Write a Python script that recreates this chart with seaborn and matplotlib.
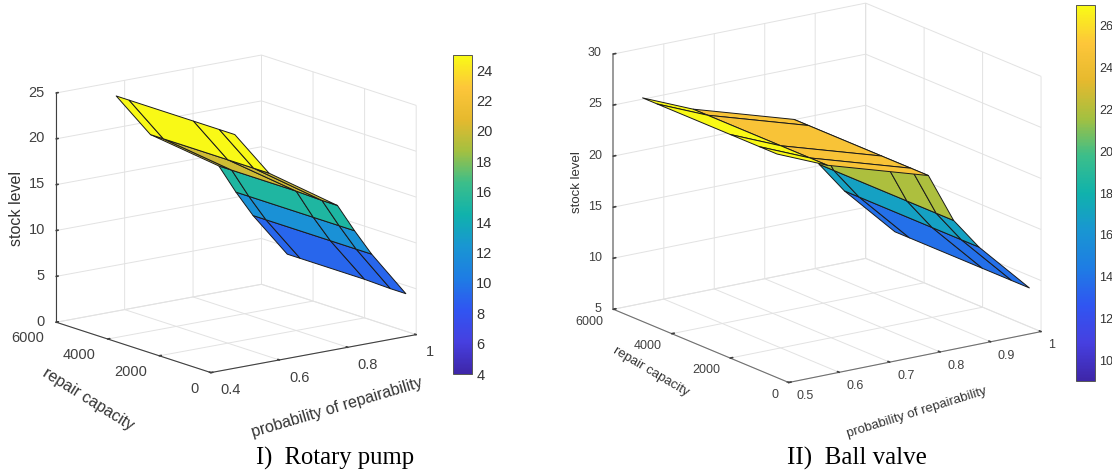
import numpy as np
import matplotlib
matplotlib.use('Agg')
import matplotlib.pyplot as plt
from matplotlib.cm import ScalarMappable
from matplotlib.colors import Normalize
import seaborn as sns

# values
prob = [0.5, 0.6, 0.8, 0.85, 0.9, 1.0]
capacity = [5000, 4500, 2000, 1000, 400]

stock_pump = [
    [24.9, 24.9, 24.9, 24.9, 24.9],
    [20.0, 20.0, 20.0, 20.0, 20.0],
    [15.2, 15.2, 15.2, 15.1, 15.1],
    [12.0, 12.0, 12.0, 12.0, 12.0],
    [9.1, 9.1, 9.1, 9.1, 9.1],
    [4.2, 4.2, 4.2, 4.1, 4.1],
]
stock_valve = [
    [26.9, 26.9, 26.9, 26.9, 26.9],
    [24.8, 24.8, 24.8, 24.8, 24.8],
    [21.8, 21.8, 21.8, 21.8, 21.8],
    [16.9, 16.9, 16.9, 16.9, 16.9],
    [13.8, 13.8, 13.8, 13.8, 13.8],
    [8.8, 8.8, 8.8, 8.8, 8.8],
]

pump_xticks = [0.4, 0.6, 0.8, 1.0]
pump_xlabels = ['0.4', '0.6', '0.8', '1']
pump_zticks = [0, 5, 10, 15, 20, 25]
pump_cticks = [4, 6, 8, 10, 12, 14, 16, 18, 20, 22, 24]

valve_xticks = [0.5, 0.6, 0.7, 0.8, 0.9, 1.0]
valve_xlabels = ['0.5', '0.6', '0.7', '0.8', '0.9', '1']
valve_zticks = [5, 10, 15, 20, 25, 30]
valve_cticks = [10, 12, 14, 16, 18, 20, 22, 24, 26]

cap_ticks = [0, 2000, 4000, 6000]

# parula anchors
parula = sns.blend_palette(['#3e26a8', '#4640e0', '#3055f2', '#1e7de4', '#1996d2', '#10b2ac',
                            '#3cbe8a', '#a4c040', '#e6b92e', '#fdc63a', '#f9fb15'],
                           as_cmap=True)

sns.set_theme(style='white')
plt.rcParams['font.family'] = ['Liberation Sans', 'DejaVu Sans']

W, H = 1112, 474
fig = plt.figure(figsize=(W / 100, H / 100), dpi=100)


def pixel_text(x, y, text, **kw):
    # positions measured in pixels from the top left of the picture
    fig.text(x / W, 1 - y / H, text, ha='center', va='center', rotation_mode='anchor', **kw)


def draw_panel(rect, stock, xlim, zlim, xticks, xlabels, zticks, clim, cticks, view, aspect, cax_rect,
               fs, tick_pad):
    left, bottom, size = rect
    ax = fig.add_axes([left / W, bottom / H, size / W, size / H], projection='3d', proj_type='ortho')
    ax.patch.set_alpha(0)
    ax.view_init(elev=view[0], azim=view[1])
    ax.set_box_aspect(aspect)

    P, C = np.meshgrid(prob, capacity, indexing='ij')
    Z = np.array(stock)
    norm = Normalize(*clim)
    ax.plot_surface(P, C, Z, facecolors=parula(norm(Z)), rstride=1, cstride=1, shade=False,
                    edgecolor='#1a1a1a', linewidth=0.7, antialiased=True)

    ax.set_xlim(*xlim, view_margin=0)
    ax.set_ylim(0, 6000, view_margin=0)
    ax.set_zlim(*zlim, view_margin=0)
    ax.set_xticks(xticks)
    ax.set_xticklabels(xlabels, ha='left', va='center')
    ax.set_yticks(cap_ticks)
    ax.set_yticklabels([str(c) for c in cap_ticks], ha='right', va='center')
    ax.set_zticks(zticks)
    ax.set_zticklabels([str(z) for z in zticks], ha='right', va='center')

    for axis in (ax.xaxis, ax.yaxis, ax.zaxis):
        axis.set_pane_color((1, 1, 1, 0))
        axis.pane.set_edgecolor('#dddddd')
        axis.pane.set_linewidth(0.7)
        axis.line.set_color('#404040')
        axis.line.set_linewidth(0.8)
        axis._axinfo['grid'].update(color='#e2e2e2', linewidth=0.7)
        axis._axinfo['tick'].update(inward_factor=0.0, outward_factor=0.12)
    ax.tick_params(labelsize=fs, colors='#404040')
    ax.tick_params(axis='x', pad=tick_pad[0])
    ax.tick_params(axis='y', pad=tick_pad[1])
    ax.tick_params(axis='z', pad=tick_pad[2])

    cax = fig.add_axes([cax_rect[0] / W, (H - cax_rect[3]) / H,
                        (cax_rect[1] - cax_rect[0]) / W, (cax_rect[3] - cax_rect[2]) / H])
    cb = fig.colorbar(ScalarMappable(norm=norm, cmap=parula), cax=cax, ticks=cticks)
    cb.ax.tick_params(direction='in', length=2.5, width=0.6, color='#404040',
                      labelsize=fs, labelcolor='#333333', pad=3)
    cb.outline.set_edgecolor('#555555')
    cb.outline.set_linewidth(0.7)
    return ax


draw_panel((20, 44, 421), stock_pump, (0.4, 1.0), (0, 25), pump_xticks, pump_xlabels, pump_zticks,
           (4, 25), pump_cticks, (14.2, -127), (1, 1, 0.92), (453, 472, 55, 374), 10.5, (2, 1.5, -3))
ax2 = draw_panel((573, 27, 495), stock_valve, (0.5, 1.0), (5, 30), valve_xticks, valve_xlabels, valve_zticks,
                 (9, 27), valve_cticks, (16.87, -124.8), (1, 1, 0.868), (1076, 1095, 5, 381), 9, (-0.2, -0.5, -3))
ax2.zaxis.line.set_color('#9a9a9a')
ax2.zaxis.line.set_linewidth(1.4)
ax2.xaxis.line.set_color('#707070')
ax2.yaxis.line.set_color('#707070')

pixel_text(337, 408, 'probability of repairability', fontsize=11.5, color='#333333', rotation=16.5)
pixel_text(88, 399, 'repair capacity', fontsize=11.5, color='#333333', rotation=-32)
pixel_text(17, 208, 'stock level', fontsize=11.5, color='#333333', rotation=90)

pixel_text(917, 412.5, 'probability of repairability', fontsize=9.5, color='#333333', rotation=17.3)
pixel_text(651, 372, 'repair capacity', fontsize=9.5, color='#333333', rotation=-30.6)
pixel_text(577, 182, 'stock level', fontsize=9.5, color='#333333', rotation=90)

pixel_text(335, 458, 'I)  Rotary pump', family='Liberation Serif', fontsize=17.7, color='black')
pixel_text(857, 458, 'II)  Ball valve', family='Liberation Serif', fontsize=18, color='black')

fig.savefig('out.png', dpi=100)
